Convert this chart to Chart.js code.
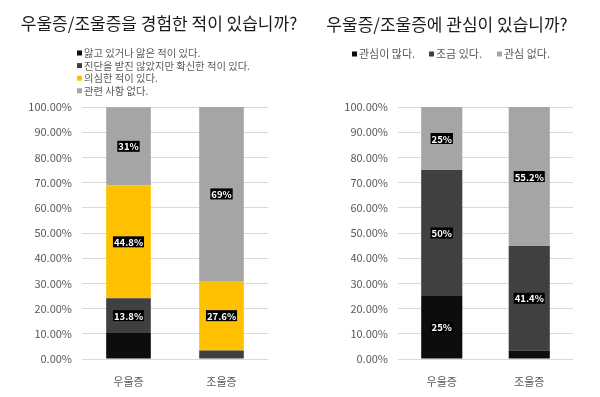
<!DOCTYPE html>
<html>
<head>
<meta charset="utf-8">
<title>우울증/조울증 설문</title>
<style>
    body { margin: 0; background: #fff; }
    #wrap { position: relative; width: 600px; height: 397px; }
    canvas { position: absolute; top: 0; }
    #chart1 { left: 0; }
    #chart2 { left: 300px; }
</style>
</head>
<body>
<div id="wrap">
    <canvas id="chart1" width="300" height="397"></canvas>
    <canvas id="chart2" width="300" height="397"></canvas>
</div>

<script src="https://cdn.jsdelivr.net/npm/chart.js"></script>
<script>
    var categories = ['우울증', '조울증'];

    // chart 1 - experience
    var expTitle = '우울증/조울증을 경험한 적이 있습니까?';
    var expSeries = ['앓고 있거나 앓은 적이 있다.', '진단을 받진 않았지만 확신한 적이 있다.', '의심한 적이 있다.', '관련 사항 없다.'];
    var expSuffered = [10.3, 0];
    var expDiagnosed = [13.8, 3.4];
    var expSuspected = [44.8, 27.6];
    var expNone = [31, 69];

    // chart 2 - interest
    var intTitle = '우울증/조울증에 관심이 있습니까?';
    var intSeries = ['관심이 많다.', '조금 있다.', '관심 없다.'];
    var intMuch = [25, 3.4];
    var intSome = [50, 41.4];
    var intNone = [25, 55.2];

    var yTicks = [0, 10, 20, 30, 40, 50, 60, 70, 80, 90, 100];

    var FONT = '"Noto Sans CJK KR", "Noto Sans", sans-serif';
    var BLACK = '#0d0d0d', DARK = '#404040', YELLOW = '#ffc000', GRAY = '#a5a5a5';
    Chart.defaults.font.family = FONT;

    // title, legend and the black value boxes
    var decor = {
        id: 'decor',
        afterDatasetsDraw: function(chart) {
            var ctx = chart.ctx;
            ctx.save();
            ctx.font = 'bold 9.5px ' + FONT;
            ctx.textAlign = 'center';
            ctx.textBaseline = 'middle';
            chart.data.datasets.forEach(function(ds, i) {
                if (ds.hideLabels) return;
                chart.getDatasetMeta(i).data.forEach(function(bar, j) {
                    var v = ds.data[j];
                    if (v < 5) return;
                    var t = v + '%';
                    var cy = (bar.y + bar.base) / 2;
                    var w = ctx.measureText(t).width + 2;
                    ctx.fillStyle = '#000';
                    ctx.fillRect(bar.x - w / 2, cy - 5.5, w, 11);
                    ctx.fillStyle = '#fff';
                    ctx.fillText(t, bar.x, cy + 0.5);
                });
            });
            ctx.restore();
        },
        afterDraw: function(chart, args, opts) {
            var ctx = chart.ctx;
            ctx.save();
            ctx.fillStyle = '#1a1a1a';
            ctx.font = '17px ' + FONT;
            ctx.textAlign = 'center';
            ctx.textBaseline = 'middle';
            ctx.fillText(opts.title, opts.titleX, opts.titleY);

            ctx.font = opts.legendSize + 'px ' + FONT;
            ctx.textAlign = 'left';
            chart.data.datasets.forEach(function(ds, i) {
                var x = opts.legendXs ? opts.legendXs[i] : opts.legendX;
                var y = opts.legendXs ? opts.legendY : opts.legendY + i * opts.legendGap;
                ctx.fillStyle = ds.backgroundColor;
                ctx.fillRect(x, y - 2.5, 5, 5);
                ctx.fillStyle = '#595959';
                ctx.fillText(ds.label, x + 7, y);
            });
            ctx.restore();
        }
    };

    function makeOptions(yWidth, rightPad, barPct, deco) {
        return {
            responsive: false,
            animation: false,
            layout: { padding: { top: 107, right: rightPad, left: 0, bottom: 0 } },
            datasets: { bar: { barPercentage: barPct, categoryPercentage: 1 } },
            plugins: {
                legend: { display: false },
                tooltip: { enabled: false },
                decor: deco
            },
            scales: {
                x: {
                    stacked: true,
                    grid: { display: false },
                    border: { display: false },
                    ticks: { color: '#595959', font: { size: 11 }, padding: 8 },
                    afterFit: function(s) { s.height = 38; }
                },
                y: {
                    stacked: true,
                    min: 0,
                    max: 100,
                    afterBuildTicks: function(s) { s.ticks = yTicks.map(function(v) { return { value: v }; }); },
                    ticks: {
                        color: '#595959',
                        font: { size: 11 },
                        padding: 10,
                        callback: function(v) { return v.toFixed(2) + '%'; }
                    },
                    grid: { color: '#d9d9d9', drawTicks: false },
                    border: { display: false },
                    afterFit: function(s) { s.width = yWidth; }
                }
            }
        };
    }

    new Chart(document.getElementById('chart1'), {
        type: 'bar',
        data: {
            labels: categories,
            datasets: [
                { label: expSeries[0], data: expSuffered, backgroundColor: BLACK, hideLabels: true },
                { label: expSeries[1], data: expDiagnosed, backgroundColor: DARK },
                { label: expSeries[2], data: expSuspected, backgroundColor: YELLOW },
                { label: expSeries[3], data: expNone, backgroundColor: GRAY }
            ]
        },
        options: makeOptions(82, 32, 0.48, {
            title: expTitle, titleX: 159, titleY: 24,
            legendX: 77, legendY: 53, legendGap: 12.6, legendSize: 10.3
        }),
        plugins: [decor]
    });

    new Chart(document.getElementById('chart2'), {
        type: 'bar',
        data: {
            labels: categories,
            datasets: [
                { label: intSeries[0], data: intMuch, backgroundColor: BLACK },
                { label: intSeries[1], data: intSome, backgroundColor: DARK },
                { label: intSeries[2], data: intNone, backgroundColor: GRAY }
            ]
        },
        options: makeOptions(98, 27, 0.47, {
            title: intTitle, titleX: 147, titleY: 25,
            legendXs: [52, 129, 197], legendY: 54, legendSize: 11
        }),
        plugins: [decor]
    });
</script>
</body>
</html>
